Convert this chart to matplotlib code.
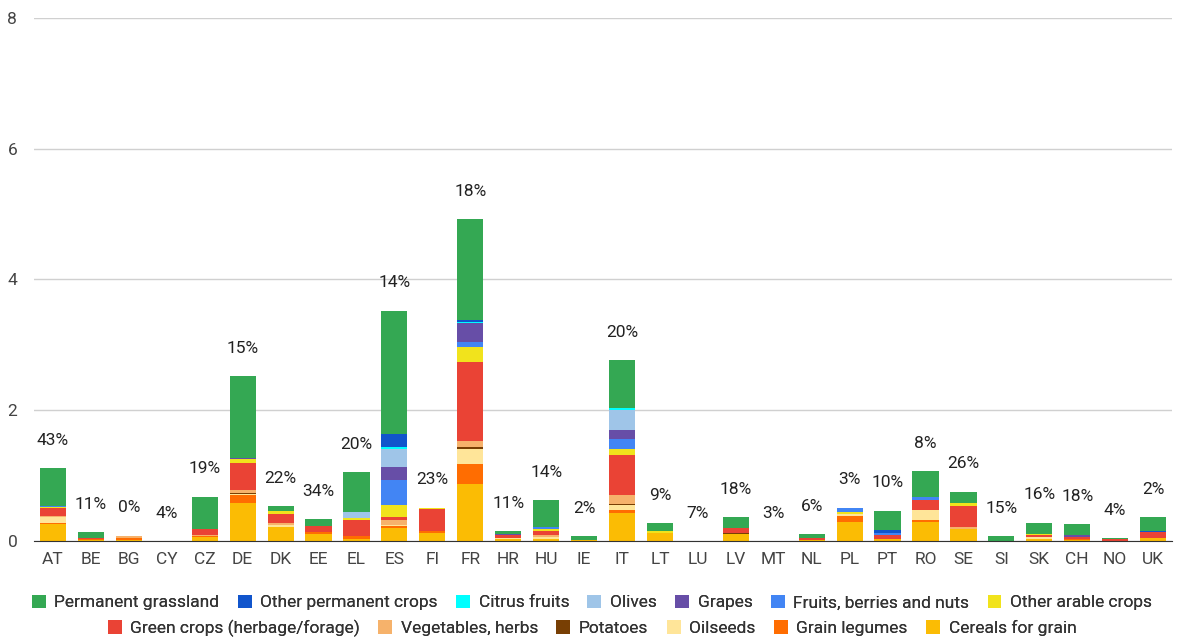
import numpy as np
import matplotlib
matplotlib.use("Agg")
import matplotlib.pyplot as plt

plt.rcParams["font.family"] = ["Roboto", "DejaVu Sans"]

countries = ["AT", "BE", "BG", "CY", "CZ", "DE", "DK", "EE", "EL", "ES",
             "FI", "FR", "HR", "HU", "IE", "IT", "LT", "LU", "LV", "MT",
             "NL", "PL", "PT", "RO", "SE", "SI", "SK", "CH", "NO", "UK"]
shares = ["43%", "11%", "0%", "4%", "19%", "15%", "22%", "34%", "20%", "14%",
          "23%", "18%", "11%", "14%", "2%", "20%", "9%", "7%", "18%", "3%",
          "6%", "3%", "10%", "8%", "26%", "15%", "16%", "18%", "4%", "2%"]

# stacked bottom -> top
cereals = [.26, .02, .015, 0, .06, .58, .22, .11, .035, .20,
           .12, .87, .03, .035, .02, .43, .12, 0, .10, 0,
           .01, .29, .035, .29, .18, 0, .035, .02, 0, .04]
grain_legumes = [.02, .01, .03, 0, .01, .12, 0, .02, .035, .035,
                 .04, .31, 0, 0, 0, .05, 0, 0, 0, 0,
                 .005, .09, 0, .025, 0, 0, 0, .015, 0, 0]
oilseeds = [.08, 0, 0, 0, .01, .02, .03, 0, 0, .015,
            0, .23, .02, .025, 0, .065, 0, 0, 0, 0,
            0, .03, 0, .16, 0, 0, .025, 0, 0, .01]
potatoes = [0, 0, 0, 0, 0, .02, 0, 0, 0, 0,
            0, .025, 0, 0, 0, .015, 0, 0, .015, 0,
            0, 0, 0, 0, 0, 0, 0, 0, 0, 0]
vegetables = [.02, 0, .035, 0, .01, .04, .02, .01, 0, .07,
              0, .10, 0, .025, 0, .14, 0, 0, 0, 0,
              .005, 0, 0, 0, .04, 0, 0, 0, 0, 0]
green_crops = [.13, .02, 0, 0, .09, .42, .15, .09, .25, .05,
               .33, 1.21, .035, .075, 0, .61, 0, 0, .09, 0,
               .02, 0, .06, .15, .32, 0, .025, .025, .03, .085]
other_arable = [.01, 0, 0, 0, 0, .06, .035, 0, .03, .18,
                .02, .22, 0, .025, 0, .10, .03, 0, 0, 0,
                0, .04, 0, 0, .035, 0, .025, 0, 0, 0]
fruits = [.01, 0, 0, 0, 0, 0, 0, 0, 0, .38,
          0, .08, 0, .035, 0, .15, 0, 0, 0, 0,
          0, .06, .02, .05, 0, 0, 0, 0, 0, 0]
grapes = [0, 0, 0, 0, 0, .01, 0, 0, 0, .20,
          0, .29, .025, 0, 0, .14, 0, 0, 0, 0,
          0, 0, .01, 0, 0, 0, 0, .025, 0, 0]
olives = [0, 0, 0, 0, 0, 0, 0, 0, .10, .27,
          0, 0, 0, 0, 0, .31, 0, 0, 0, 0,
          0, 0, 0, 0, 0, 0, 0, 0, 0, 0]
citrus = [0, 0, 0, 0, 0, 0, 0, 0, 0, .035,
          0, .02, 0, 0, 0, .03, 0, 0, 0, 0,
          0, 0, 0, 0, 0, 0, 0, 0, 0, 0]
other_permanent = [0, 0, 0, 0, 0, 0, 0, 0, 0, .20,
                   0, .02, 0, 0, 0, 0, 0, 0, 0, 0,
                   0, 0, .05, 0, 0, 0, 0, 0, 0, .015]
grassland = [.58, .09, 0, 0, .50, 1.25, .08, .10, .60, 1.89,
             0, 1.55, .04, .41, .05, .73, .12, 0, .16, 0,
             .06, 0, .29, .39, .18, .07, .17, .17, .01, .21]

series = [
    ("Cereals for grain", cereals, "#FBBC04"),
    ("Grain legumes", grain_legumes, "#FF6D01"),
    ("Oilseeds", oilseeds, "#FFE599"),
    ("Potatoes", potatoes, "#783F04"),
    ("Vegetables, herbs", vegetables, "#F6B26B"),
    ("Green crops (herbage/forage)", green_crops, "#EA4335"),
    ("Other arable crops", other_arable, "#F1E31C"),
    ("Fruits, berries and nuts", fruits, "#4285F4"),
    ("Grapes", grapes, "#674EA7"),
    ("Olives", olives, "#9FC5E8"),
    ("Citrus fruits", citrus, "#00FFFF"),
    ("Other permanent crops", other_permanent, "#1155CC"),
    ("Permanent grassland", grassland, "#34A853"),
]

fig = plt.figure(figsize=(11.77, 6.39), dpi=100)
ax = fig.add_axes([0.0289, 0.1534, 0.9669, 0.8184])

x = np.arange(len(countries))
bottom = np.zeros(len(countries))
handles = {}
for name, vals, color in series:
    vals = np.array(vals)
    h = ax.bar(x, vals, 0.69, bottom=bottom, color=color, linewidth=0, zorder=3)
    handles[name] = h
    bottom += vals

for xi, total, s in zip(x, bottom, shares):
    ax.annotate(s, (xi, total), xytext=(0, 20), textcoords="offset points",
                ha="center", va="center", fontsize=12.5, color="#222222")

ax.set_xlim(-0.5, len(countries) - 0.5)
ax.set_ylim(0, 8)
ax.set_yticks([0, 2, 4, 6, 8])
ax.set_xticks(x)
ax.set_xticklabels(countries)
ax.tick_params(axis="both", length=0, labelsize=12.5, labelcolor="#444444")
ax.tick_params(axis="y", pad=12)
ax.tick_params(axis="x", pad=8)
ax.grid(axis="y", color="#d0d0d0", linewidth=1, zorder=0)
for side in ["top", "right", "left"]:
    ax.spines[side].set_visible(False)
ax.spines["bottom"].set_color("#333333")
ax.spines["bottom"].set_zorder(4)

row1 = ["Permanent grassland", "Other permanent crops", "Citrus fruits", "Olives",
        "Grapes", "Fruits, berries and nuts", "Other arable crops"]
row2 = ["Green crops (herbage/forage)", "Vegetables, herbs", "Potatoes",
        "Oilseeds", "Grain legumes", "Cereals for grain"]
for names, ypos in [(row1, 0.057), (row2, 0.017)]:
    leg = fig.legend([handles[n] for n in names], names, loc="center",
                     bbox_to_anchor=(0.503, ypos), ncol=len(names),
                     frameon=False, fontsize=12.5, handlelength=0.8, handleheight=0.8,
                     handletextpad=0.5, columnspacing=1.05, labelcolor="#333333",
                     borderaxespad=0, borderpad=0)
    fig.add_artist(leg)

fig.savefig("out.png", dpi=100)
